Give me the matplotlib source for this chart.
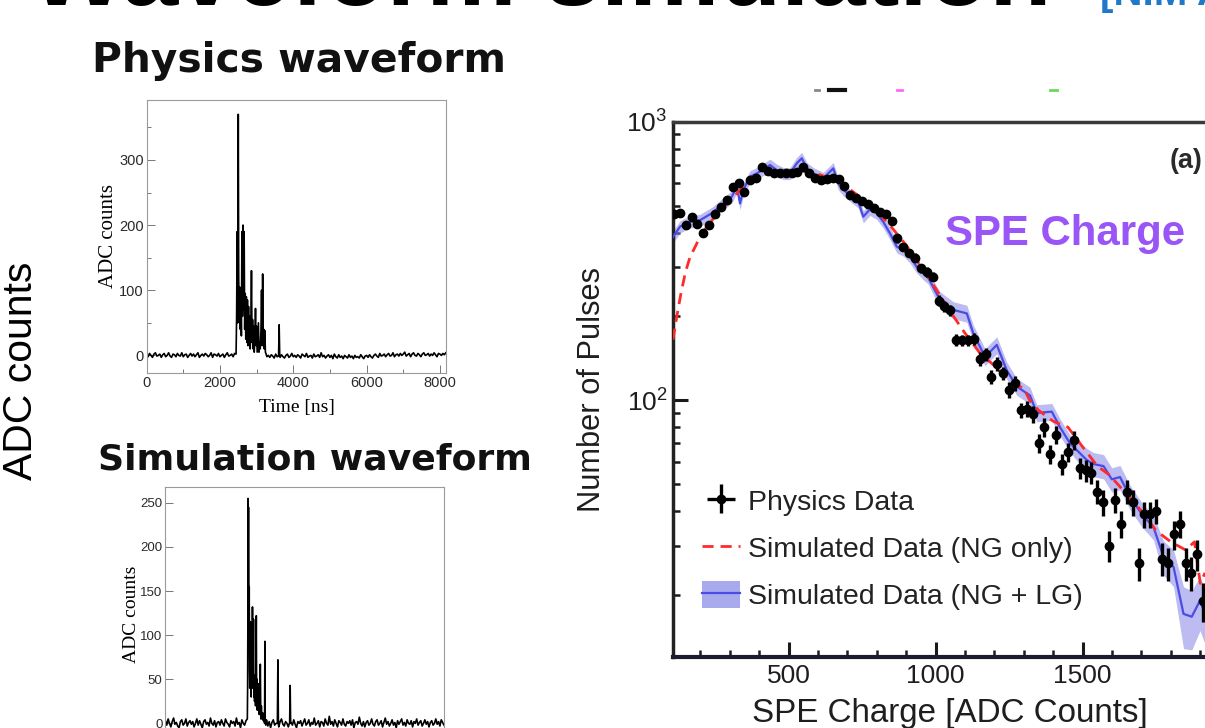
import numpy as np
import matplotlib
matplotlib.use("Agg")
import matplotlib.pyplot as plt
from matplotlib.lines import Line2D
from matplotlib.patches import Patch
from matplotlib.ticker import MultipleLocator, FixedLocator, FuncFormatter, NullFormatter
from matplotlib import font_manager

# ---------------- data ----------------
# small physics waveform (ADC counts vs time in ns)
phys_pre_start, phys_pre_step = 0, 40
phys_pre = [1,-2,3,0,-3,2,4,-1,0,2, -3,1,3,-2,0,4,-1,-3,2,1, -2,3,0,-1,4,-2,1,2,-3,0,
            3,-1,2,-2,1,4,-3,0,2,-1, 3,1,-2,0,4,-3,2,1,-1,3, -2,0,2,-3,1,4,-1,0,2,-2, 3]
phys_pulse_t = [2440,2455,2470,2485,2500,2512,2525,2540,2555,2570, 2585,2600,2615,2630,2645,2660,2675,2690,2705,2720,
                2735,2750,2765,2780,2795,2810,2825,2845,2860,2875, 2890,2905,2920,2935,2955,2970,2985,3000,3015,3035,
                3050,3065,3085,3100,3120,3135,3150,3165,3180,3195, 3210,3225,3240,3260]
phys_pulse_v = [2,60,190,50,370,120,60,105,40,90, 30,190,60,200,70,190,40,95,25,90,
                20,85,15,75,20,60,10,45,130,20, 55,10,45,5,30,72,15,45,5,30,
                50,5,20,10,40,100,15,125,20,40, 10,38,5,2]
phys_spike_t = [3600, 3615, 3630]
phys_spike_v = [-1, 47, 1]
phys_post_start, phys_post_step = 3280, 40
phys_post = [-2,0,-3,1,-1,-4,2,-2,0,-3, 1,-2,-4,0,2,-3,-1,3,-2,0, -3,1,-1,-4,2,0,-2,3,-3,-1,
             0,-4,2,-2,-1,1,-3,4,-2,0, -4,-1,1,-3,0,-5,2,-2,-4,1, -3,-1,-5,0,-2,-4,1,-3,-1,-5,
             0,-3,-2,-4,1,-2,-5,-1,0,-3, 1,-2,-4,0,2,-1,-3,3,-1,0, 2,-2,1,3,-1,0,4,-2,1,2,
             -1,3,0,2,5,-1,1,3,-2,2, 4,0,-1,3,1,-2,2,4,0,1, 3,-1,2,0,4,1,-2,3,2,0, 3,1,4]

# small simulated waveform
sim_pre_start, sim_pre_step = 0, 40
sim_pre = [3,-2,5,0,-4,2,6,-1,1,-3, -5,2,4,-2,0,5,-3,1,3,-1, 2,-4,0,5,-2,3,-1,-5,2,4,
           -1,1,-3,6,0,-2,3,-4,1,2, -2,4,0,-3,5,1,-1,-4,3,0, 2,-3,6,-1,1,-5,4,0,-2,3]
sim_pulse_t = [2400,2408,2415,2421,2428,2434,2441,2448,2455,2463, 2471,2480,2490,2500,2512,2525,2540,2550,2558,2568,
               2580,2592,2600,2612,2625,2640,2652,2662,2672,2682, 2692,2705,2720,2735,2750,2765,2780,2795,2810,2830,
               2850,2870,2890,2905,2914,2923,2940,2960,2980]
sim_pulse_v = [5,40,110,255,150,245,80,100,155,60, 40,60,115,45,30,100,45,132,40,60,
               118,30,55,25,45,20,60,122,35,50, 15,35,20,45,10,30,67,5,20,5,
               12,3,8,0,93,2,-2,4,1]
sim_spike_t = [3280, 3295, 3310, 3640, 3654, 3668]
sim_spike_v = [0, 72, 0, 1, 43, 0]
sim_post_start, sim_post_step = 3000, 40
sim_post = [-3,2,-5,1,4,-2,0,3,-4,2, 5,-1,-3,2,0,-4,3,1,-2,4, -1,-5,2,0,3,-3,1,5,-2,0,
            4,-3,1,-1,6,-2,0,3,-4,2, 1,-3,5,0,-2,8,-1,2,-3,4, 0,-4,3,1,-2,5,-1,-3,2,0,
            3,-2,4,-5,1,2,-1,7,0,-3, 2,-4,1,3,-2,0,5,-1,-3,2, 4,-2,0,3,-4,1,6,-1,2,-3,
            0,4,-2,1,-5,3,-1,2,5,-2, 1,-3,4,0,-1,3,-4,2,0,5, -2,1,3,-3,0,4,-1,2,-4,1,
            3,-2,0,5,-1,2,-3,4,1,-2]

# SPE charge spectrum
spe_bins = np.arange(110, 1911, 20)
phys_counts = [465,469,425,455,430,398,425,465,495,525,
               585,600,560,620,628,685,665,655,652,652,
               652,660,690,655,630,618,625,628,622,590,
               545,532,518,505,488,473,465,440,381,356,
               338,325,298,289,278,228,218,210,165,164,
               164,166,141,146,121,135,125,109,115,92,
               93,89,70,80,64,75,59,65,72,57,
               56,55,47,43,30,44,36,47,43,26,
               39,39,40,27,26,33,36,26,24,28,
               19]
phys_err = [14,14,13,14,13,13,13,14,14,15,
            15,16,15,16,16,17,17,16,16,16,
            16,16,17,16,16,16,16,16,16,15,
            15,15,15,15,14,14,14,14,13,12,
            12,12,11,11,11,10,10,10,8,8,
            8,8,8,8,7,8,7,7,7,6,
            6,6,5.5,6,5,5.5,5,5,5.5,5,
            5,5,4.5,4.5,3.8,4.5,4,4.5,4.5,3.5,
            4.2,4.2,4.2,3.6,3.5,3.9,4,3.5,3.4,3.6,
            3.0]
ng_x = [107,120,135,150,165,185,200,230,260,300,350,400,450,500,550,600,650,700,750,800,
        850,900,950,1000,1050,1100,1150,1200,1250,1300,1320,1350,1400,1450,1500,1550,1590,
        1650,1700,1750,1800,1850,1880,1900,1916]
ng_v = [165,200,245,290,327,360,390,430,470,520,590,638,660,666,665,648,622,580,530,478,
        418,360,302,252,208,174,148,133,118,110,100,92,84,80,68,58,54,
        46,40,34,31,29,31,22,24]
nglg_x = [107,131,165,199,240,275,307,324,335,346,369,392,437,460,482,505,528,545,562,584,
          618,652,669,686,715,737,754,777,800,822,845,868,891,913,936,958,975,1015,1060,1106,
          1128,1168,1208,1242,1276,1321,1344,1395,1423,1457,1514,1537,1571,1599,1627,1661,1701,
          1741,1775,1809,1843,1871,1899,1916]
nglg_v = [386,420,437,443,470,505,538,585,509,570,635,652,699,670,652,652,709,739,680,652,
          626,680,600,570,538,516,456,485,469,437,397,356,346,327,301,285,275,229,211,205,
          174,143,158,128,112,104,90,91,80,70,61,59,58,52,53,45,39,
          35,27.4,25.2,17.1,16.7,19.1,17.1]
nglg_rel = [0.05]*37 + [0.07]*13 + [0.10]*8 + [0.14,0.15] + [0.25,0.24,0.22,0.22]

# ---------------- figure ----------------
names = {f.name for f in font_manager.fontManager.ttflist}
NARROW = "Liberation Sans Narrow" if "Liberation Sans Narrow" in names else "Liberation Sans"
plt.rcParams["font.family"] = ["Liberation Sans", "DejaVu Sans"]
plt.rcParams["mathtext.default"] = "regular"

W, H = 1205, 728
fig = plt.figure(figsize=(W / 100, H / 100), dpi=100)
R = fig.canvas.get_renderer()


def ax_px(l, t, r, b):
    return fig.add_axes([l / W, 1 - b / H, (r - l) / W, (b - t) / H])


def fit(txt, target, vertical=False):
    bb = txt.get_window_extent(R)
    cur = bb.height if vertical else bb.width
    txt.set_fontsize(txt.get_fontsize() * target / cur)
    return txt


def seg(start, step, vals):
    return start + step * np.arange(len(vals)), np.asarray(vals, float)


def build(*segs):
    t = np.concatenate([np.asarray(s[0], float) for s in segs])
    v = np.concatenate([np.asarray(s[1], float) for s in segs])
    o = np.argsort(t, kind="stable")
    return t[o], v[o]


# ----- slide texts -----
t = fig.text(30 / W, 1 - 5 / H, "Waveform simulation", fontsize=60, fontweight="bold",
             ha="left", va="baseline", color="black")
fit(t, 1022)
fig.text(1100 / W, 1 - 5 / H, "[NIM A]", fontsize=29, fontweight="bold",
         ha="left", va="baseline", color="#1f78c8")
t = fig.text(92 / W, 1 - 72 / H, "Physics waveform", fontsize=28, fontweight="bold",
             family="DejaVu Sans", ha="left", va="baseline", color="#111111")
fit(t, 413)
t = fig.text(97.6 / W, 1 - 470 / H, "Simulation waveform", fontsize=28, fontweight="bold",
             family="DejaVu Sans", ha="left", va="baseline", color="#111111")
fit(t, 434)
t = fig.text(21 / W, 1 - 371 / H, "ADC counts", fontsize=28, rotation=90,
             ha="center", va="center", color="black")
fit(t, 218, vertical=True)

# ----- small physics waveform -----
phys = ax_px(146.6, 100, 445.8, 373)
pt, pv = build(seg(phys_pre_start, phys_pre_step, phys_pre), (phys_pulse_t, phys_pulse_v),
               (phys_spike_t, phys_spike_v), seg(phys_post_start, phys_post_step, phys_post))
phys.plot(pt, pv, color="black", lw=1.2)
phys.set_xlim(0, 8160)
phys.set_ylim(-27, 392)
phys.xaxis.set_major_locator(MultipleLocator(2000))
phys.xaxis.set_minor_locator(MultipleLocator(1000))
phys.yaxis.set_major_locator(MultipleLocator(100))
phys.yaxis.set_minor_locator(MultipleLocator(50))
phys.set_xlabel("Time [ns]", family="Liberation Serif", fontsize=14)
phys.set_ylabel("ADC counts", family="Liberation Serif", fontsize=15)
phys.xaxis.set_label_coords(0.503, -0.095)
phys.yaxis.set_label_coords(-0.096, 0.50)

# ----- small simulated waveform (its time axis lies below the slide edge) -----
sim = ax_px(165.4, 487, 444, 741)
st, sv = build(seg(sim_pre_start, sim_pre_step, sim_pre), (sim_pulse_t, sim_pulse_v),
               (sim_spike_t, sim_spike_v), seg(sim_post_start, sim_post_step, sim_post))
sim.plot(st, sv, color="black", lw=1.2)
sim.set_xlim(0, 8160)
sim.set_ylim(-20, 268)
sim.xaxis.set_major_locator(MultipleLocator(2000))
sim.xaxis.set_minor_locator(MultipleLocator(1000))
sim.yaxis.set_major_locator(MultipleLocator(50))
sim.set_ylabel("ADC counts", family="Liberation Serif", fontsize=14)
sim.yaxis.set_label_coords(-0.091, 0.50)
sim.tick_params(axis="x", labelbottom=False)

for a, ls in ((phys, 10.5), (sim, 9.5)):
    for s in a.spines.values():
        s.set_color("#9a9a9a")
        s.set_linewidth(0.8)
    a.tick_params(which="both", direction="in", color="#777777", width=0.7,
                  labelcolor="#2a2a2a", pad=2)
    a.tick_params(which="major", length=6)
    a.tick_params(which="minor", length=3)
    for lab in a.get_xticklabels() + a.get_yticklabels():
        lab.set_family(NARROW)
        lab.set_fontsize(ls)

# ----- SPE charge spectrum -----
big = ax_px(673, 121.7, 1205, 656.7)
big.set_yscale("log")
band_lo = np.asarray(nglg_v) * (1 - np.asarray(nglg_rel))
band_hi = np.asarray(nglg_v) * (1 + np.asarray(nglg_rel))
big.fill_between(nglg_x, band_lo, band_hi, color="#8585e8", alpha=0.55, lw=0, zorder=2)
blue_line, = big.plot(nglg_x, nglg_v, color="#4b4be6", lw=1.6, zorder=3)
red_line, = big.plot(ng_x, ng_v, color="#ff2a2a", lw=2.0, ls=(0, (4, 2.5)), zorder=4)
eb = big.errorbar(spe_bins, phys_counts, yerr=phys_err, xerr=10, fmt="o", color="black",
                  ms=6, elinewidth=2.4, capsize=0, zorder=5)
big.set_xlim(107, 1916)
big.set_ylim(12, 1000)
big.xaxis.set_major_locator(MultipleLocator(500))
big.xaxis.set_minor_locator(MultipleLocator(100))
big.yaxis.set_major_locator(FixedLocator([100, 1000]))
big.yaxis.set_minor_locator(FixedLocator([20, 30, 40, 50, 60, 70, 80, 90,
                                          200, 300, 400, 500, 600, 700, 800, 900]))
big.yaxis.set_major_formatter(FuncFormatter(lambda v, p: r"$10^{%d}$" % round(np.log10(v))))
big.yaxis.set_minor_formatter(NullFormatter())
big.spines["right"].set_visible(False)
big.spines["left"].set_linewidth(2.5)
big.spines["left"].set_color("#222222")
big.spines["bottom"].set_linewidth(3.0)
big.spines["bottom"].set_color("#1a1a30")
big.spines["top"].set_linewidth(2.5)
big.spines["top"].set_color("#3a3a3a")
big.tick_params(which="both", direction="in", color="#1a1a1a", top=False, right=False,
                labelsize=19, labelcolor="#1e1e1e")
big.tick_params(which="major", length=11, width=2.2)
big.tick_params(which="minor", length=5, width=1.8)
big.tick_params(axis="y", pad=4)
big.tick_params(axis="x", pad=5)

leg = big.legend([eb, red_line,
                  (Patch(facecolor="#8585e8", alpha=0.7, edgecolor="none"),
                   Line2D([], [], color="#4b4be6", lw=1.6))],
                 ["Physics Data", "Simulated Data (NG only)", "Simulated Data (NG + LG)"],
                 loc="upper left", bbox_to_anchor=(702 / W, 1 - 487 / H),
                 bbox_transform=fig.transFigure, frameon=False, fontsize=20.5,
                 handlelength=1.35, handleheight=1.1, handletextpad=0.28,
                 labelspacing=0.62, borderpad=0, borderaxespad=0)
for tx in leg.get_texts():
    tx.set_color("#222222")

t = fig.text(592 / W, 1 - 390 / H, "Number of Pulses", fontsize=20, rotation=90,
             ha="center", va="center", color="#1e1e1e")
fit(t, 245, vertical=True)
t = fig.text(950 / W, 1 - 722 / H, "SPE Charge [ADC Counts]", fontsize=20,
             ha="center", va="baseline", color="#1e1e1e")
fit(t, 395)
t = fig.text(1186 / W, 1 - 168 / H, "(a)", fontsize=17, fontweight="bold",
             ha="center", va="baseline", color="#2a2a2a")
fit(t, 33)
t = fig.text(945 / W, 1 - 245 / H, "SPE Charge", fontsize=28, fontweight="bold",
             ha="left", va="baseline", color="#9a55f6")
fit(t, 240)

# clipped remnants of a legend above the spectrum
for (x0, x1, c, lw) in ((815, 819, "#888888", 2), (829, 845, "#111111", 3),
                        (897, 902, "#ff66ff", 2), (1050, 1057, "#66dd55", 2)):
    fig.add_artist(Line2D([x0 / W, x1 / W], [1 - 90 / H, 1 - 90 / H], color=c, lw=lw,
                          transform=fig.transFigure))

fig.savefig("out.png", dpi=100)
